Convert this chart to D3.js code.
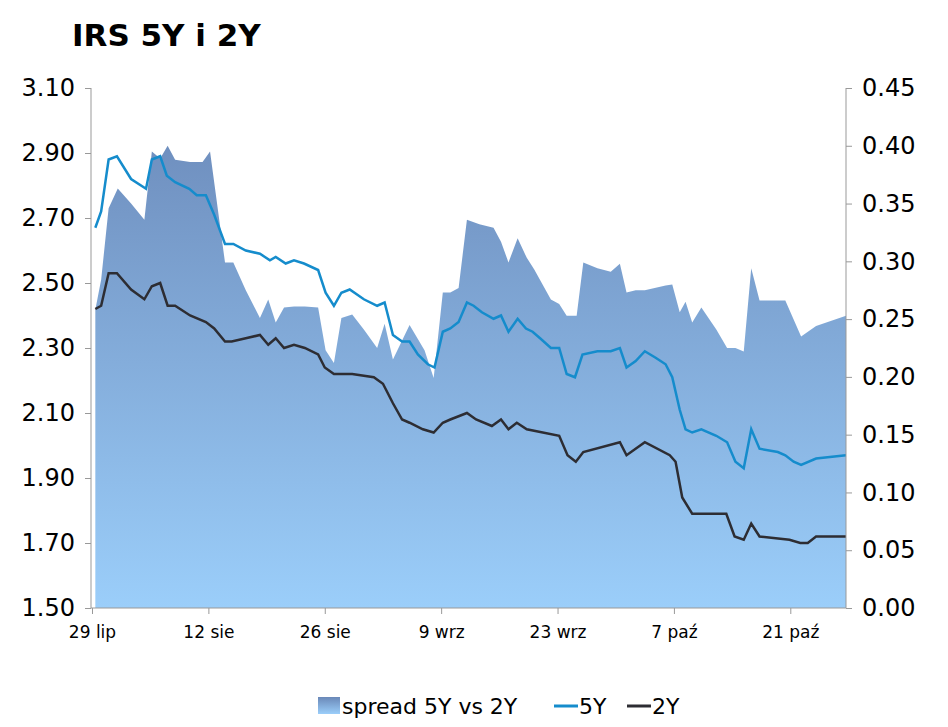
<!DOCTYPE html>
<html lang="pl">
<head>
<meta charset="UTF-8">
<script src="https://d3js.org/d3.v7.min.js"></script>
<style>
  body { margin: 0; background: #fff; font-family: "DejaVu Sans", Verdana, sans-serif; }
  .axis path, .axis line { stroke: #999; }
</style>
</head>
<body>
<svg id="chart" width="948" height="727"></svg>
<script>
// days since 29 lip
const spreadData = [[0.4,0.258],[1.1,0.284],[2.0,0.346],[3.1,0.363],[4.7,0.350],[6.3,0.336],[7.2,0.395],[8.2,0.389],[9.1,0.400],[10.0,0.388],[11.8,0.386],[13.3,0.386],[14.2,0.395],[16.0,0.299],[17.0,0.299],[18.5,0.275],[20.2,0.251],[21.2,0.267],[22.1,0.247],[23.1,0.260],[24.3,0.261],[25.6,0.261],[27.2,0.260],[28.1,0.223],[29.1,0.212],[30.0,0.251],[31.3,0.254],[32.7,0.241],[34.3,0.225],[35.2,0.246],[36.2,0.215],[38.2,0.245],[40.0,0.223],[41.1,0.199],[42.2,0.273],[43.1,0.273],[44.1,0.277],[45.1,0.336],[46.6,0.332],[48.3,0.329],[49.2,0.317],[50.1,0.299],[51.2,0.320],[52.3,0.303],[53.2,0.293],[55.2,0.267],[56.2,0.263],[57.1,0.253],[58.3,0.253],[59.1,0.299],[60.8,0.294],[62.4,0.291],[63.5,0.298],[64.3,0.273],[65.4,0.275],[66.5,0.275],[69.0,0.279],[69.8,0.280],[70.7,0.256],[71.4,0.265],[72.2,0.247],[73.3,0.260],[75.1,0.241],[76.4,0.225],[77.4,0.225],[78.4,0.222],[79.3,0.294],[80.3,0.266],[83.4,0.266],[85.3,0.235],[87.1,0.244],[90.7,0.253]];
const irs5y = [[0.4,2.67],[1.1,2.72],[2.0,2.88],[3.0,2.89],[4.7,2.82],[6.5,2.79],[7.2,2.88],[8.2,2.89],[9.0,2.83],[10.0,2.81],[11.7,2.79],[12.6,2.77],[13.7,2.77],[14.7,2.71],[16.0,2.62],[17.0,2.62],[18.5,2.60],[20.2,2.59],[21.4,2.57],[22.1,2.58],[23.3,2.56],[24.3,2.57],[25.5,2.56],[27.2,2.54],[28.1,2.47],[29.1,2.43],[30.0,2.47],[31.0,2.48],[32.7,2.45],[34.3,2.43],[35.2,2.44],[36.2,2.34],[37.3,2.32],[38.2,2.32],[39.2,2.28],[40.4,2.25],[41.2,2.24],[42.2,2.35],[43.1,2.36],[44.1,2.38],[45.1,2.44],[45.9,2.43],[46.9,2.41],[48.3,2.39],[49.2,2.40],[50.1,2.35],[51.2,2.39],[52.2,2.36],[53.0,2.35],[53.9,2.33],[55.2,2.30],[56.2,2.30],[57.1,2.22],[58.1,2.21],[59.0,2.28],[60.8,2.29],[62.4,2.29],[63.5,2.30],[64.3,2.24],[65.4,2.26],[66.5,2.29],[67.8,2.27],[69.0,2.25],[69.8,2.21],[70.7,2.11],[71.4,2.05],[72.2,2.04],[73.3,2.05],[75.1,2.03],[76.4,2.01],[77.4,1.95],[78.4,1.93],[79.3,2.05],[80.3,1.99],[82.5,1.98],[83.4,1.97],[84.4,1.95],[85.3,1.94],[87.1,1.96],[90.7,1.97]];
const irs2y = [[0.4,2.42],[1.1,2.43],[2.0,2.53],[3.0,2.53],[4.7,2.48],[6.3,2.45],[7.2,2.49],[8.2,2.50],[9.1,2.43],[10.0,2.43],[11.8,2.40],[13.7,2.38],[14.7,2.36],[16.0,2.32],[16.8,2.32],[18.5,2.33],[20.2,2.34],[21.2,2.31],[22.1,2.33],[23.1,2.30],[24.3,2.31],[25.6,2.30],[27.2,2.28],[28.0,2.24],[29.1,2.22],[30.0,2.22],[31.3,2.22],[33.9,2.21],[35.0,2.19],[36.2,2.13],[37.3,2.08],[38.2,2.07],[39.8,2.05],[41.1,2.04],[42.2,2.07],[43.1,2.08],[44.1,2.09],[45.1,2.10],[46.2,2.08],[48.1,2.06],[49.2,2.08],[50.1,2.05],[51.1,2.07],[52.3,2.05],[56.2,2.03],[57.2,1.97],[58.2,1.95],[59.1,1.98],[63.5,2.01],[64.3,1.97],[66.5,2.01],[69.5,1.97],[70.2,1.95],[71.0,1.84],[72.2,1.79],[73.2,1.79],[76.3,1.79],[77.3,1.72],[78.4,1.71],[79.3,1.76],[80.3,1.72],[83.9,1.71],[85.2,1.70],[86.1,1.70],[87.1,1.72],[90.7,1.72]];
const xTickDays = [0, 14, 28, 42, 56, 70, 84];
const xTickLabels = ["29 lip", "12 sie", "26 sie", "9 wrz", "23 wrz", "7 paź", "21 paź"];
const leftTicks = [1.50, 1.70, 1.90, 2.10, 2.30, 2.50, 2.70, 2.90, 3.10];
const rightTicks = [0, 0.05, 0.10, 0.15, 0.20, 0.25, 0.30, 0.35, 0.40, 0.45];

const svg = d3.select("#chart");
const pLeft = 91, pRight = 846, pTop = 88, pBottom = 608;

const x = d3.scaleLinear().domain([0, 90.7]).range([92, 846]);
const yL = d3.scaleLinear().domain([1.5, 3.1]).range([pBottom, pTop]);
const yR = d3.scaleLinear().domain([0, 0.45]).range([pBottom, pTop]);

const defs = svg.append("defs");
const grad = defs.append("linearGradient").attr("id", "g1")
  .attr("gradientUnits", "userSpaceOnUse")
  .attr("x1", 0).attr("y1", pTop).attr("x2", 0).attr("y2", pBottom);
grad.append("stop").attr("offset", "0%").attr("stop-color", "#6a88b8");
grad.append("stop").attr("offset", "100%").attr("stop-color", "#9bcefa");
const lg = defs.append("linearGradient").attr("id", "g2")
  .attr("x1", 0).attr("y1", 0).attr("x2", 0).attr("y2", 1);
lg.append("stop").attr("offset", "0%").attr("stop-color", "#6a88b8");
lg.append("stop").attr("offset", "100%").attr("stop-color", "#9bcefa");

svg.append("text").attr("x", 72).attr("y", 46)
  .attr("font-size", 31).attr("font-weight", "bold").attr("fill", "#000")
  .text("IRS 5Y i 2Y");

svg.append("path").datum(spreadData)
  .attr("fill", "url(#g1)")
  .attr("d", d3.area().x(d => x(d[0])).y0(pBottom).y1(d => yR(d[1])));

svg.append("path").datum(irs5y)
  .attr("fill", "none").attr("stroke", "#158ccc").attr("stroke-width", 2.5)
  .attr("d", d3.line().x(d => x(d[0])).y(d => yL(d[1])));
svg.append("path").datum(irs2y)
  .attr("fill", "none").attr("stroke", "#2d2d33").attr("stroke-width", 2.5)
  .attr("d", d3.line().x(d => x(d[0])).y(d => yL(d[1])));

const axL = svg.append("g").attr("class", "axis").attr("transform", `translate(${pLeft},0)`)
  .call(d3.axisLeft(yL).tickValues(leftTicks).tickFormat(d3.format(".2f")).tickSize(6).tickPadding(10));
const axR = svg.append("g").attr("class", "axis").attr("transform", `translate(${pRight},0)`)
  .call(d3.axisRight(yR).tickValues(rightTicks).tickFormat(d3.format(".2f")).tickSize(6).tickPadding(10));
[axL, axR].forEach(a => {
  a.select(".domain").attr("d", `M0,${pTop}V${pBottom}`);
  a.selectAll("text").attr("font-size", 24).attr("fill", "#000")
    .attr("font-family", "DejaVu Sans, Verdana, sans-serif");
});
const axB = svg.append("g").attr("class", "axis").attr("transform", `translate(0,${pBottom})`)
  .call(d3.axisBottom(x).tickValues(xTickDays).tickFormat((d, i) => xTickLabels[i]).tickSize(6).tickPadding(12));
axB.select(".domain").attr("d", `M${pLeft},0H${pRight}`);
axB.selectAll("text").attr("font-size", 17).attr("fill", "#000")
  .attr("font-family", "DejaVu Sans, Verdana, sans-serif");

// legend
const leg = svg.append("g").attr("font-size", 22).attr("fill", "#000");
leg.append("rect").attr("x", 318).attr("y", 697).attr("width", 22).attr("height", 17).attr("fill", "url(#g2)");
leg.append("text").attr("x", 342).attr("y", 714).text("spread 5Y vs 2Y");
leg.append("line").attr("x1", 554).attr("x2", 578).attr("y1", 706).attr("y2", 706)
  .attr("stroke", "#158ccc").attr("stroke-width", 3);
leg.append("text").attr("x", 579).attr("y", 714).text("5Y");
leg.append("line").attr("x1", 627).attr("x2", 651).attr("y1", 706).attr("y2", 706)
  .attr("stroke", "#2d2d33").attr("stroke-width", 3);
leg.append("text").attr("x", 652).attr("y", 714).text("2Y");
</script>
</body>
</html>
